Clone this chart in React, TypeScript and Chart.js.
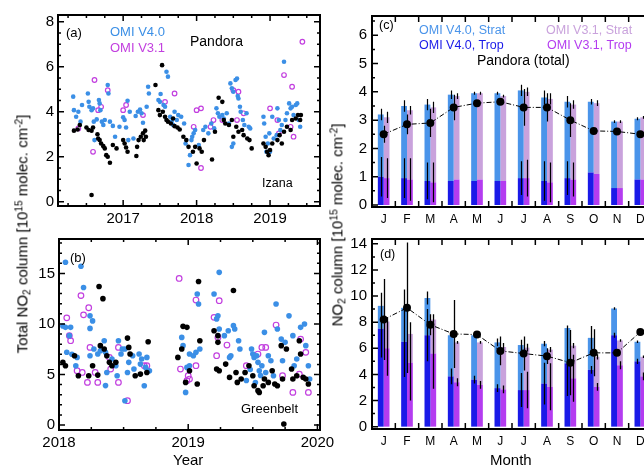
import React, { useEffect, useRef } from "react";
import { Chart, registerables } from "chart.js";
Chart.register(...registerables);

type Pt = [number, number];
const CW = 700;
const CH = 466;
const FONT = '"Liberation Sans", Arial, Helvetica, sans-serif';

// ---------- Panel (a): Izana daily values ----------
const izanaPandora: Pt[] = [
  [2016.33,3.16],[2016.38,3.21],[2016.41,3.41],[2016.50,3.30],[2016.53,3.19],[2016.57,3.16],[2016.59,3.30],[2016.57,0.30],
  [2016.65,3.0],[2016.66,2.81],[2016.68,2.74],[2016.70,2.59],[2016.73,2.47],[2016.75,2.37],[2016.77,2.07],[2016.79,2.0],
  [2016.82,1.73],[2016.86,2.52],[2016.91,2.37],[2017.0,2.74],[2017.02,2.59],[2017.04,2.41],[2017.06,2.22],[2017.18,2.03],
  [2017.19,2.44],[2017.21,2.74],[2017.24,2.89],[2017.27,3.04],[2017.30,3.16],[2017.31,2.89],[2017.28,2.74],[2017.44,5.19],
  [2017.53,6.07],[2017.48,4.07],[2017.50,3.85],[2017.54,4.0],[2017.57,3.78],[2017.59,3.63],[2017.61,3.56],[2017.65,3.48],
  [2017.68,3.70],[2017.70,3.36],[2017.74,3.30],[2017.77,3.21],[2017.82,2.89],[2017.86,2.74],[2017.89,2.44],
  [2017.95,2.22],[2017.98,2.44],[2018.0,1.70],[2018.04,2.37],[2018.07,2.22],[2018.10,2.74],[2018.21,1.88],[2018.25,3.11],
  [2018.30,4.62],[2018.35,4.44],[2018.37,3.63],[2018.39,3.48],[2018.44,3.41],[2018.48,3.63],[2018.50,2.89],[2018.54,3.33],
  [2018.57,3.11],[2018.62,3.19],[2018.64,2.96],[2018.69,2.81],[2018.72,2.74],[2018.75,2.37],[2018.91,2.59],[2018.94,2.44],
  [2018.96,2.22],[2018.98,2.07],[2019.0,2.30],[2019.03,2.59],[2019.10,2.74],[2019.13,2.96],[2019.16,2.59],[2019.19,3.11],
  [2019.23,3.33],[2019.28,3.19],[2019.30,3.63],[2019.35,3.70],[2019.38,3.85],[2019.42,3.85],[2019.41,3.63]
];
const izanaV40: Pt[] = [
  [2016.32,4.67],[2016.33,4.07],[2016.36,3.78],[2016.39,4.0],[2016.42,3.56],[2016.44,4.30],[2016.52,4.81],[2016.53,4.44],
  [2016.54,4.22],[2016.57,4.07],[2016.59,4.15],[2016.60,3.56],[2016.61,2.74],[2016.64,3.66],[2016.67,4.52],[2016.68,4.37],
  [2016.69,4.07],[2016.71,3.56],[2016.73,3.41],[2016.75,3.63],[2016.79,5.19],[2016.80,4.81],[2016.82,3.56],[2016.86,3.37],
  [2016.89,2.89],[2016.95,3.33],[2017.0,3.75],[2017.02,3.63],[2017.04,3.30],[2017.06,4.49],[2017.07,2.74],[2017.09,4.0],
  [2017.14,2.81],[2017.17,3.81],[2017.20,4.0],[2017.23,4.10],[2017.25,3.93],[2017.27,3.51],[2017.32,4.22],[2017.34,5.11],
  [2017.35,4.81],[2017.48,4.52],[2017.50,4.44],[2017.51,4.79],[2017.55,4.30],[2017.57,4.22],[2017.59,5.78],[2017.61,5.56],
  [2017.64,3.78],[2017.66,3.56],[2017.68,3.41],[2017.70,4.0],[2017.73,3.63],[2017.75,3.85],[2017.79,3.78],[2017.83,3.48],
  [2017.85,2.59],[2017.89,1.63],[2017.91,2.07],[2017.93,2.74],
  [2017.94,2.89],[2017.96,3.04],[2017.98,3.19],[2018.03,2.52],[2018.09,3.19],[2018.12,3.33],[2018.16,3.04],[2018.20,3.48],
  [2018.24,3.26],[2018.27,4.15],[2018.29,3.93],[2018.31,3.78],[2018.35,3.85],[2018.37,3.70],[2018.41,3.93],[2018.44,3.48],
  [2018.46,5.26],[2018.48,5.04],[2018.50,4.89],[2018.53,5.41],[2018.55,5.48],[2018.56,4.70],[2018.57,4.59],[2018.59,4.22],
  [2018.60,4.0],[2018.63,3.63],[2018.65,3.41],[2018.68,3.93],[2018.71,3.33],[2018.73,3.26],[2018.48,2.44],[2018.50,2.59],
  [2018.91,3.78],[2018.92,3.48],[2018.94,2.89],[2018.95,2.22],[2018.97,2.59],[2018.99,3.04],[2019.0,2.22],[2019.03,3.78],
  [2019.05,2.81],[2019.09,2.96],[2019.10,4.15],[2019.12,3.63],[2019.14,3.19],[2019.16,3.41],[2019.19,6.22],[2019.21,3.63],
  [2019.23,3.93],[2019.26,4.37],[2019.28,4.15],[2019.30,4.22],[2019.32,3.85],[2019.35,4.30],[2019.37,4.37],[2019.39,3.63],
  [2019.41,3.33]
];
const izanaV31: Pt[] = [
  [2016.39,3.26],[2016.59,2.22],[2016.61,5.41],[2016.66,4.07],[2016.70,4.22],[2016.79,4.96],[2017.0,4.07],[2017.04,4.30],
  [2017.27,3.85],[2017.57,4.44],[2017.70,4.81],[2017.96,3.33],[2018.0,4.07],[2018.06,4.15],[2018.06,1.5],[2018.19,3.33],
  [2018.23,3.63],[2018.35,3.63],[2018.50,4.96],[2018.55,3.63],[2018.57,4.89],[2018.64,3.93],[2019.0,4.15],[2019.10,3.63],
  [2019.12,3.04],[2019.19,5.63],[2019.30,5.11],[2019.28,3.33],[2019.32,2.89],[2019.44,7.11]
];
const izanaYears = [2017, 2018, 2019];

// ---------- Panel (b): Greenbelt daily values ----------
const gbPandora: Pt[] = [
  [2018.03,6.2],[2018.05,5.87],[2018.12,6.86],[2018.15,4.88],[2018.23,4.88],[2018.26,5.87],[2018.30,4.94],[2018.31,13.7],
  [2018.34,12.5],[2018.32,7.85],[2018.35,7.52],[2018.37,6.86],[2018.39,6.2],[2018.41,5.87],[2018.44,6.2],[2018.53,8.6],
  [2018.54,7.68],[2018.55,7.02],[2018.59,4.88],[2018.63,5.04],[2018.69,8.24],[2018.68,5.2],[2018.96,9.76],[2018.99,9.66],
  [2018.95,7.52],[2018.92,6.69],[2018.98,4.22],
  [2019.08,14.2],[2019.35,13.3],[2019.09,8.34],[2019.07,4.06],[2019.01,5.37],[2019.20,9.33],[2019.23,8.84],[2019.23,8.18],
  [2019.22,5.54],[2019.24,5.37],[2019.29,6.03],[2019.32,4.71],[2019.37,5.2],[2019.38,4.22],[2019.41,4.55],[2019.44,5.2],
  [2019.47,5.87],[2019.50,4.88],[2019.51,3.89],[2019.54,3.4],[2019.55,3.23],[2019.58,3.89],[2019.59,4.55],[2019.62,4.22],
  [2019.65,5.37],[2019.67,4.06],[2019.69,3.89],[2019.72,7.85],[2019.73,4.55],[2019.76,7.52],[2019.80,5.54],[2019.81,4.55],
  [2019.84,4.88],[2019.86,8.34],[2019.87,7.02],[2019.89,4.71],[2019.91,4.55],[2019.93,4.06],[2019.74,0.1]
];
const gbV40: Pt[] = [
  [2018.05,16.1],[2018.17,15.7],[2018.03,9.8],[2018.05,9.66],[2018.09,9.66],[2018.08,8.84],[2018.19,13.6],[2018.24,10.8],
  [2018.26,10.3],[2018.24,9.56],[2018.06,7.2],[2018.10,7.0],[2018.13,5.87],[2018.14,6.69],[2018.24,6.86],[2018.27,7.52],
  [2018.30,7.02],[2018.32,7.35],[2018.35,8.34],[2018.36,7.19],[2018.37,5.2],[2018.36,3.9],[2018.41,6.53],[2018.44,5.87],
  [2018.46,8.34],[2018.48,7.02],[2018.49,7.52],[2018.45,4.88],[2018.51,7.52],[2018.53,5.2],[2018.54,6.2],[2018.57,6.86],
  [2018.58,5.54],[2018.62,7.02],[2018.63,6.03],[2018.64,6.53],[2018.67,5.7],[2018.68,6.69],[2018.70,5.37],[2018.66,3.89],
  [2018.51,2.4],[2018.95,8.67],[2018.96,7.85],[2018.98,3.23],
  [2019.07,12.96],[2019.08,11.97],[2019.01,7.02],[2019.04,6.86],[2019.06,7.19],[2019.09,7.52],[2019.01,5.87],[2018.99,5.7],
  [2019.24,15.1],[2019.20,12.96],[2019.22,10.5],[2019.23,10.8],[2019.24,9.5],[2019.28,8.84],[2019.31,9.33],[2019.35,9.83],
  [2019.36,9.5],[2019.39,8.34],[2019.40,7.52],[2019.33,6.86],[2019.32,6.69],[2019.49,7.52],[2019.50,7.02],[2019.51,6.69],
  [2019.53,6.86],[2019.54,6.2],[2019.55,5.37],[2019.57,5.87],[2019.59,9.17],[2019.68,11.97],[2019.69,9.5],[2019.72,8.5],
  [2019.75,8.18],[2019.73,6.36],[2019.78,10.8],[2019.81,8.84],[2019.82,5.87],[2019.84,6.53],[2019.87,9.66],[2019.90,9.99],
  [2019.91,7.85],[2019.93,5.87],[2019.94,4.55],[2019.62,6.86],[2019.64,6.36],[2019.66,4.88],[2019.45,4.4],[2019.48,5.5],
  [2019.52,4.2],[2019.56,4.9],[2019.60,5.2]
];
const gbV31: Pt[] = [
  [2018.06,10.6],[2018.08,8.84],[2018.09,8.34],[2018.17,12.8],[2018.19,10.9],[2018.23,11.6],[2018.24,7.68],[2018.14,5.37],
  [2018.18,5.2],[2018.22,4.22],[2018.30,4.22],[2018.28,5.2],[2018.39,6.69],[2018.40,5.54],[2018.46,7.68],[2018.46,4.22],
  [2018.53,2.41],[2018.66,5.87],[2018.68,5.87],[2018.93,14.5],[2018.94,5.54],[2019.0,4.88],
  [2019.06,12.36],[2019.24,12.3],[2019.20,10.65],[2019.23,8.67],[2019.06,5.87],[2019.01,4.55],[2018.99,4.39],[2019.30,7.91],
  [2019.22,6.86],[2019.57,7.68],[2019.60,7.68],[2019.68,9.89],[2019.73,4.88],[2019.81,3.23],[2019.86,5.04],[2019.87,8.5],
  [2019.91,7.19],[2019.93,3.23],[2019.45,5.87],[2019.54,7.02]
];
const gbYears = [2018, 2019, 2020];

// ---------- Panels (c) and (d): monthly means ----------
const months = ["J", "F", "M", "A", "M", "J", "J", "A", "S", "O", "N", "D"];

const cV40Total = [3.2, 3.5, 3.55, 3.9, 3.95, 3.95, 4.05, 3.8, 3.65, 3.65, 2.95, 3.05];
const cV40Trop = [1.0, 0.95, 0.85, 0.85, 0.85, 0.85, 0.95, 0.85, 0.95, 1.15, 0.6, 0.9];
const cV31Total = [3.1, 3.35, 3.45, 3.85, 3.95, 3.85, 4.0, 3.75, 3.55, 3.6, 2.95, 3.1];
const cV31Trop = [0.95, 0.9, 0.8, 0.9, 0.9, 0.85, 0.95, 0.8, 0.9, 1.1, 0.6, 0.9];
const cPandora = [2.5, 2.85, 2.9, 3.45, 3.6, 3.65, 3.45, 3.45, 3.0, 2.62, 2.6, 2.5];
const cPandoraSd = [0.3, 0.35, 0.5, 0.45, 0.1, 0.1, 0.65, 0.5, 0.6, 0.1, 0.1, 0.1];
const cV40TotalSd = [0.2, 0.2, 0.2, 0.15, 0.05, 0.05, 0.2, 0.25, 0.2, 0.1, 0.05, 0.05];
const cV40TropSd = [0.7, 0.7, 0.65, 0.0, 0.0, 0.0, 0.6, 0.7, 0.6, 0.0, 0.0, 0.0];
const cV31TotalSd = [0.2, 0.15, 0.2, 0.1, 0.05, 0.05, 0.15, 0.2, 0.15, 0.1, 0.05, 0.05];
const cV31TropSd = [0.7, 0.75, 0.7, 0.0, 0.0, 0.0, 0.65, 0.7, 0.6, 0.0, 0.0, 0.0];

const dV40Total = [9.25, 9.1, 9.85, 7.0, 7.0, 6.45, 6.25, 6.35, 7.55, 6.8, 9.05, 6.5];
const dV40Trop = [7.5, 6.5, 7.0, 3.85, 3.6, 2.95, 2.8, 3.3, 4.85, 4.35, 7.0, 5.0];
const dV31Total = [8.05, 7.1, 8.2, 6.45, 6.45, 6.1, 6.05, 5.9, 6.2, 5.35, 6.6, 5.35];
const dV31Trop = [6.0, 4.9, 5.6, 3.4, 3.2, 2.85, 2.8, 3.05, 3.7, 3.05, 4.7, 3.85];
const dPandora = [8.2, 9.1, 7.8, 7.1, 7.05, 5.8, 5.6, 5.4, 4.9, 5.65, 5.65, 7.25];
const dPandoraSd = [3.1, 5.0, 0.8, 2.6, 0.2, 1.1, 1.3, 0.6, 2.5, 1.8, 0.2, 0.2];
const dV40TotalSd = [1.0, 1.4, 0.5, 0.1, 0.1, 0.3, 0.4, 0.2, 0.2, 0.9, 0.1, 0.1];
const dV40TropSd = [2.2, 2.7, 2.0, 0.6, 0.3, 0.3, 1.3, 1.6, 2.5, 0.3, 0.2, 0.2];
const dV31TotalSd = [0.3, 0.9, 0.4, 0.1, 0.1, 0.3, 0.3, 0.2, 0.2, 0.2, 0.1, 0.1];
const dV31TropSd = [2.1, 2.9, 2.7, 0.3, 0.3, 0.3, 1.4, 1.8, 1.8, 0.3, 0.3, 0.3];

// ---------- colours ----------
const C_BLUE_PT = "#3b8fe6";
const C_PURPLE_PT = "#c23fdf";
const C_V40_STRAT = "#4a94ea";
const C_V40_TROP = "#1a1ae8";
const C_V31_STRAT = "#c9a2dc";
const C_V31_TROP = "#b43cf0";

// ---------- helpers ----------
type Area = { l: number; t: number; r: number; b: number };
const Y_W = 40;
const X_H = 30;

function range(a: number, b: number, step: number) {
  const out: number[] = [];
  for (let v = a; v <= b + 1e-9; v += step) out.push(Math.round(v * 1000) / 1000);
  return out;
}

function framePlugin(xMajor: number[], xMinor: number[], yMajor: number[], yMinor: number[]) {
  return {
    id: "frame",
    afterDraw(chart: any) {
      const { ctx, chartArea: a, scales } = chart;
      const xs = scales.x;
      const ys = scales.y;
      ctx.save();
      ctx.strokeStyle = "#000";
      ctx.lineWidth = 1.5;
      ctx.beginPath();
      const vx = (vals: number[], len: number) =>
        vals.forEach((v) => {
          const p = xs.getPixelForValue(v);
          if (p < a.left + 1 || p > a.right - 1) return;
          ctx.moveTo(p, a.bottom);
          ctx.lineTo(p, a.bottom - len);
          ctx.moveTo(p, a.top);
          ctx.lineTo(p, a.top + len);
        });
      const vy = (vals: number[], len: number) =>
        vals.forEach((v) => {
          const p = ys.getPixelForValue(v);
          if (p < a.top + 1 || p > a.bottom - 1) return;
          ctx.moveTo(a.left, p);
          ctx.lineTo(a.left + len, p);
          ctx.moveTo(a.right, p);
          ctx.lineTo(a.right - len, p);
        });
      vx(xMajor, 6);
      vx(xMinor, 3);
      vy(yMajor, 6);
      vy(yMinor, 3);
      ctx.stroke();
      ctx.lineWidth = 2;
      ctx.strokeRect(a.left, a.top, a.right - a.left, a.bottom - a.top);
      ctx.restore();
    },
  };
}

type ErrItem = { ds: number; center: number[]; sd: number[] };
function errPlugin(drawBefore: number, items: ErrItem[], width: number) {
  return {
    id: "errs",
    beforeDatasetDraw(chart: any, args: any) {
      if (args.index !== drawBefore) return;
      const { ctx, chartArea: a, scales } = chart;
      ctx.save();
      ctx.beginPath();
      ctx.rect(a.left, a.top, a.right - a.left, a.bottom - a.top);
      ctx.clip();
      ctx.strokeStyle = "#000";
      ctx.lineWidth = width;
      ctx.beginPath();
      for (const e of items) {
        const meta = chart.getDatasetMeta(e.ds);
        e.center.forEach((c, i) => {
          const el = meta.data[i];
          const sd = e.sd[i];
          if (!el || !sd) return;
          const x = Math.round(el.x) + 0.5;
          ctx.moveTo(x, scales.y.getPixelForValue(c - sd));
          ctx.lineTo(x, scales.y.getPixelForValue(c + sd));
        });
      }
      ctx.stroke();
      ctx.restore();
    },
  };
}

function layoutFor(a: Area) {
  return {
    padding: { left: a.l - Y_W, top: a.t, right: CW - a.r, bottom: CH - a.b - X_H },
  };
}

const tickFont = (size: number) => ({ family: FONT, size });

function linearAxis(min: number, max: number, ticks: number[], size: number, pad: number, isX: boolean) {
  return {
    type: "linear",
    min,
    max,
    afterFit: (s: any) => {
      if (isX) s.height = X_H;
      else s.width = Y_W;
    },
    afterBuildTicks: (s: any) => {
      s.ticks = ticks.map((v) => ({ value: v }));
    },
    grid: { display: false, drawTicks: false },
    border: { display: false },
    ticks: {
      color: "#000",
      font: tickFont(size),
      padding: pad,
      maxRotation: 0,
      autoSkip: false,
      callback: (v: any) => String(v),
    },
  };
}

const toXY = (pts: Pt[]) => pts.map(([x, y]) => ({ x, y }));

function scatterConfig(
  area: Area,
  xmin: number, xmax: number, xTicks: number[],
  ymin: number, ymax: number, yTicks: number[], yMinorStep: number,
  pan: Pt[], v40: Pt[], v31: Pt[], r: number
) {
  return {
    type: "scatter",
    data: {
      datasets: [
        { data: toXY(pan), pointRadius: r, pointBackgroundColor: "#000", pointBorderColor: "#000", pointBorderWidth: 0 },
        { data: toXY(v40), pointRadius: r, pointBackgroundColor: C_BLUE_PT, pointBorderColor: C_BLUE_PT, pointBorderWidth: 0 },
        { data: toXY(v31), pointRadius: r, pointBackgroundColor: "rgba(255,255,255,0)", pointBorderColor: C_PURPLE_PT, pointBorderWidth: 1.2 },
      ],
    },
    options: {
      responsive: false,
      animation: false,
      devicePixelRatio: 1,
      events: [],
      layout: layoutFor(area),
      plugins: { legend: { display: false }, tooltip: { enabled: false } },
      scales: {
        x: linearAxis(xmin, xmax, xTicks, 15, 4, true),
        y: linearAxis(ymin, ymax, yTicks, 15, 4, false),
      },
    },
    plugins: [
      framePlugin(xTicks, range(Math.floor(xmin), Math.ceil(xmax), 0.25), yTicks, range(0, ymax, yMinorStep)),
    ],
  };
}

function barConfig(
  area: Area, ymin: number, ymax: number, yTicks: number[], yMinorStep: number,
  v40Tot: number[], v40Trop: number[], v31Tot: number[], v31Trop: number[], pan: number[],
  panSd: number[], v40TotSd: number[], v40TropSd: number[], v31TotSd: number[], v31TropSd: number[],
  errWidth: number
) {
  return {
    type: "bar",
    data: {
      labels: months,
      datasets: [
        { data: v40Trop, backgroundColor: C_V40_TROP, stack: "v40", order: 1 },
        { data: v40Tot.map((t, i) => t - v40Trop[i]), backgroundColor: C_V40_STRAT, stack: "v40", order: 1 },
        { data: v31Trop, backgroundColor: C_V31_TROP, stack: "v31", order: 1 },
        { data: v31Tot.map((t, i) => t - v31Trop[i]), backgroundColor: C_V31_STRAT, stack: "v31", order: 1 },
        {
          type: "line", data: pan, stack: "pan", order: -1,
          borderColor: "#000", borderWidth: 1, borderDash: [5, 2, 1, 2],
          pointRadius: 4, pointBackgroundColor: "#000", pointBorderColor: "#000", pointBorderWidth: 0,
        },
      ],
    },
    options: {
      responsive: false,
      animation: false,
      devicePixelRatio: 1,
      events: [],
      layout: layoutFor(area),
      plugins: { legend: { display: false }, tooltip: { enabled: false } },
      datasets: { bar: { categoryPercentage: 0.5, barPercentage: 1.0, borderWidth: 0 } },
      scales: {
        x: {
          type: "category",
          stacked: true,
          offset: true,
          afterFit: (s: any) => { s.height = X_H; },
          grid: { display: false, drawTicks: false },
          border: { display: false },
          ticks: { color: "#000", font: tickFont(12), padding: 5, maxRotation: 0, autoSkip: false },
        },
        y: { ...linearAxis(ymin, ymax, yTicks, 15, 5, false), stacked: true },
      },
    },
    plugins: [
      framePlugin(range(-0.5, 11.5, 1), [], yTicks, range(0, ymax, yMinorStep)),
      errPlugin(4, [
        { ds: 0, center: v40Trop, sd: v40TropSd },
        { ds: 1, center: v40Tot, sd: v40TotSd },
        { ds: 2, center: v31Trop, sd: v31TropSd },
        { ds: 3, center: v31Tot, sd: v31TotSd },
        { ds: 4, center: pan, sd: panSd },
      ], errWidth),
    ],
  };
}

const AREA_A: Area = { l: 58, t: 15, r: 320, b: 206 };
const AREA_B: Area = { l: 59, t: 239, r: 320, b: 430 };
const AREA_C: Area = { l: 372, t: 16, r: 652, b: 207 };
const AREA_D: Area = { l: 372, t: 239, r: 652, b: 429 };

const makeA = () =>
  scatterConfig(AREA_A, 2016.113, 2019.68, izanaYears, -0.19, 8.3, [0, 2, 4, 6, 8], 0.5,
    izanaPandora, izanaV40, izanaV31, 2.3);
const makeB = () =>
  scatterConfig(AREA_B, 2018, 2020.02, gbYears, -0.49, 18.4, [0, 5, 10, 15], 1,
    gbPandora, gbV40, gbV31, 2.8);
const makeC = () =>
  barConfig(AREA_C, -0.07, 6.68, [0, 1, 2, 3, 4, 5, 6], 0.5,
    cV40Total, cV40Trop, cV31Total, cV31Trop, cPandora,
    cPandoraSd, cV40TotalSd, cV40TropSd, cV31TotalSd, cV31TropSd, 1.2);
const makeD = () =>
  barConfig(AREA_D, -0.18, 14.37, [0, 2, 4, 6, 8, 10, 12, 14], 1,
    dV40Total, dV40Trop, dV31Total, dV31Trop, dPandora,
    dPandoraSd, dV40TotalSd, dV40TropSd, dV31TotalSd, dV31TropSd, 1.3);

function ChartCanvas({ make }: { make: () => any }) {
  const ref = useRef<HTMLCanvasElement>(null);
  useEffect(() => {
    const chart = new Chart(ref.current as HTMLCanvasElement, make() as any);
    return () => chart.destroy();
  }, [make]);
  return (
    <canvas
      ref={ref}
      width={CW}
      height={CH}
      style={{ position: "absolute", left: 0, top: 0, width: CW, height: CH, pointerEvents: "none" }}
    />
  );
}

function Label({ x, y, size, color = "#000", children }: { x: number; y: number; size: number; color?: string; children: any }) {
  return (
    <div style={{ position: "absolute", left: x, top: y, fontSize: size, color, lineHeight: 1, whiteSpace: "nowrap" }}>
      {children}
    </div>
  );
}

const subStyle: any = { fontSize: "0.68em", position: "relative", top: "0.3em" };
const supStyle: any = { fontSize: "0.68em", position: "relative", top: "-0.45em" };

function VTitle({ cx, cy, children }: { cx: number; cy: number; children: any }) {
  return (
    <div
      style={{
        position: "absolute", left: cx, top: cy, fontSize: 15, lineHeight: 1, whiteSpace: "nowrap",
        transform: "translate(-50%, -50%) rotate(-90deg)",
      }}
    >
      {children}
    </div>
  );
}

export default function App() {
  return (
    <div
      style={{
        position: "fixed", left: 0, top: 0, width: 644, height: 466, overflow: "hidden",
        background: "#fff", fontFamily: FONT, color: "#000",
      }}
    >
      <ChartCanvas make={makeA} />
      <ChartCanvas make={makeB} />
      <ChartCanvas make={makeC} />
      <ChartCanvas make={makeD} />

      {/* panel (a) */}
      <Label x={66} y={26} size={13}>(a)</Label>
      <Label x={110} y={25} size={13} color={C_BLUE_PT}>OMI V4.0</Label>
      <Label x={110} y={41} size={13} color={C_PURPLE_PT}>OMI V3.1</Label>
      <Label x={190} y={34} size={14}>Pandora</Label>
      <Label x={262} y={177} size={12.5}>Izana</Label>

      {/* panel (b) */}
      <Label x={70} y={251} size={13}>(b)</Label>
      <Label x={241} y={402} size={13}>Greenbelt</Label>

      {/* panel (c) */}
      <Label x={379} y={19} size={12.5}>(c)</Label>
      <Label x={419} y={24} size={12.5} color={C_V40_STRAT}>OMI V4.0, Strat</Label>
      <Label x={419} y={38.5} size={12.5} color={C_V40_TROP}>OMI V4.0, Trop</Label>
      <Label x={546} y={24} size={12.5} color={C_V31_STRAT}>OMI V3.1, Strat</Label>
      <Label x={547} y={38.5} size={12.5} color={C_V31_TROP}>OMI V3.1, Trop</Label>
      <Label x={477} y={53} size={14}>Pandora (total)</Label>

      {/* panel (d) */}
      <Label x={380} y={248} size={12.5}>(d)</Label>

      {/* axis titles */}
      <Label x={173} y={452} size={15}>Year</Label>
      <Label x={490} y={452} size={15}>Month</Label>
      <VTitle cx={22} cy={234}>
        Total NO<span style={subStyle}>2</span> column [10<span style={supStyle}>15</span> molec. cm<span style={supStyle}>-2</span>]
      </VTitle>
      <VTitle cx={337} cy={225}>
        NO<span style={subStyle}>2</span> column [10<span style={supStyle}>15</span> molec. cm<span style={supStyle}>-2</span>]
      </VTitle>
    </div>
  );
}
